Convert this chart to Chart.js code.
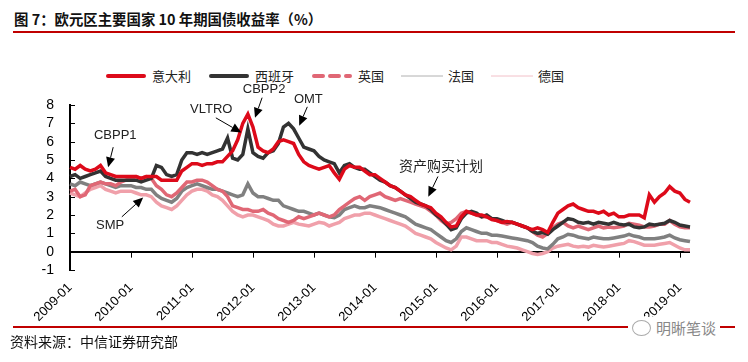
<!DOCTYPE html>
<html>
<head>
<meta charset="utf-8">
<script src="https://cdn.jsdelivr.net/npm/chart.js@4.4.1/dist/chart.umd.min.js"></script>
<style>
body{margin:0;width:748px;height:362px;background:#fff;position:relative;overflow:hidden;font-family:"Noto Sans CJK SC",sans-serif}
#title{position:absolute;left:14px;top:8px;font-size:14.4px;font-weight:bold;color:#111;white-space:nowrap}
.rule{position:absolute;left:13px;width:722px;height:2px;background:#c00000}
#legend{position:absolute;left:105px;top:66px;display:flex;align-items:center;font-size:13px;color:#222;white-space:nowrap}
#legend .item{display:flex;align-items:center;margin-right:17px}
#legend svg{margin-right:5px}
#chart{position:absolute;left:0;top:0}
#source{position:absolute;left:10px;top:331px;font-size:14px;color:#111}
#mark{position:absolute;left:628px;top:317px;background:#fff;padding:0 4px;display:flex;align-items:center;color:#888;font-size:15px}
#mark .ico{width:17px;height:14px;border:1.5px solid #aaa;border-radius:50%;margin-right:5px}
</style>
</head>
<body>
<div id="title">图 7：欧元区主要国家 10 年期国债收益率（%）</div>
<div class="rule" style="top:31px"></div>
<div id="legend"></div>
<canvas id="chart" width="748" height="362"></canvas>
<div class="rule" style="top:326px"></div>
<div id="source">资料来源：中信证券研究部</div>
<div id="mark"><span class="ico"></span>明晰笔谈</div>
<script>
// monthly labels 2009-01 .. 2019-03
const months = []
for (let yr = 2009; yr <= 2019; yr++) {
    for (let m = 1; m <= 12; m++) {
        if (yr == 2019 && m > 3) break
        months.push(yr + '-' + String(m).padStart(2, '0'))
    }
}

const seriesNames = ['意大利', '西班牙', '英国', '法国', '德国']

const italy = [4.6,4.5,4.7,4.5,4.4,4.5,4.7,4.3,4.2,4.1,4.1,4.1,
    4.1,4.1,4.0,4.1,4.1,4.1,3.9,3.9,3.9,3.9,4.4,4.6,
    4.8,4.8,4.7,4.8,4.8,4.9,4.9,5.2,5.5,6.1,7.0,7.5,
    6.8,5.7,5.5,5.4,5.6,6.0,6.1,6.0,5.9,5.3,4.9,4.7,
    4.6,4.5,4.6,4.7,4.3,3.95,4.5,4.7,4.6,4.6,4.4,4.2,
    4.2,4.0,3.8,3.6,3.5,3.3,3.1,3.0,2.8,2.6,2.5,2.4,
    2.1,1.9,1.6,1.35,1.4,1.9,2.2,2.1,2.0,2.0,1.9,1.75,
    1.7,1.6,1.65,1.6,1.5,1.4,1.3,1.2,1.3,1.2,1.05,1.6,
    2.1,2.3,2.5,2.6,2.4,2.3,2.2,2.2,2.1,2.2,2.0,2.1,
    1.9,1.9,2.0,2.0,2.0,1.85,3.1,2.7,3.0,3.2,3.55,3.3,
    3.2,2.85,2.7]
const spain = [4.1,4.2,4.0,4.1,4.2,4.3,4.4,4.1,4.0,3.9,3.9,3.9,
    3.9,3.9,3.8,3.9,4.0,4.7,4.6,4.2,4.1,4.2,5.0,5.4,
    5.4,5.3,5.4,5.3,5.4,5.5,5.6,6.2,5.1,5.0,5.3,6.7,
    5.4,5.2,5.1,5.4,5.5,5.9,6.8,7.0,6.7,6.2,5.7,5.6,
    5.5,5.2,5.0,4.9,4.8,4.3,4.7,4.8,4.6,4.5,4.5,4.3,
    4.1,3.9,3.8,3.6,3.5,3.3,3.1,2.9,2.7,2.6,2.5,2.3,
    2.0,1.8,1.5,1.2,1.3,1.8,2.1,2.2,2.1,1.9,2.0,1.8,
    1.8,1.7,1.6,1.6,1.5,1.4,1.3,1.1,1.0,1.05,0.95,1.2,
    1.4,1.6,1.8,1.75,1.6,1.55,1.6,1.5,1.6,1.55,1.5,1.6,
    1.5,1.45,1.5,1.35,1.3,1.35,1.5,1.45,1.5,1.55,1.7,1.6,
    1.45,1.4,1.35]
const uk = [3.3,3.4,3.0,3.1,3.6,3.7,3.8,3.7,3.7,3.6,3.8,3.9,
    4.0,4.1,4.0,4.1,4.0,3.6,3.4,3.1,3.0,3.2,3.5,3.8,
    3.8,3.9,3.9,3.8,3.6,3.4,3.3,3.0,2.5,2.4,2.3,2.3,
    2.2,2.2,2.3,2.1,2.0,1.8,1.7,1.6,1.7,1.9,1.8,1.9,
    2.0,2.1,2.0,1.9,2.0,2.3,2.5,2.7,2.9,3.0,2.8,3.0,
    3.1,3.2,3.0,2.9,2.8,2.9,2.8,2.7,2.6,2.5,2.4,2.2,
    2.0,1.7,1.5,1.6,1.8,2.1,2.2,2.1,2.0,1.9,1.9,1.8,
    1.7,1.6,1.5,1.6,1.5,1.4,1.3,1.1,0.9,0.8,1.0,1.3,
    1.5,1.6,1.4,1.3,1.4,1.3,1.2,1.3,1.4,1.3,1.35,1.3,
    1.35,1.4,1.55,1.5,1.45,1.35,1.35,1.4,1.5,1.5,1.7,1.5,
    1.35,1.3,1.3]
const france = [3.7,3.6,3.8,3.7,3.6,3.7,3.8,3.7,3.6,3.5,3.6,3.6,
    3.6,3.5,3.5,3.4,3.4,3.1,2.9,2.8,2.7,2.9,3.3,3.5,
    3.6,3.7,3.6,3.5,3.4,3.4,3.3,3.2,3.1,3.0,3.1,3.7,
    3.2,3.0,3.0,2.9,2.8,2.8,2.5,2.4,2.3,2.2,2.2,2.1,
    2.0,2.1,2.0,1.9,1.85,2.0,2.3,2.4,2.5,2.4,2.4,2.5,
    2.45,2.4,2.3,2.2,2.1,2.0,1.9,1.7,1.5,1.4,1.3,1.2,
    1.0,0.8,0.6,0.5,0.7,1.1,1.3,1.2,1.1,1.0,1.0,0.9,
    0.9,0.85,0.8,0.75,0.7,0.65,0.6,0.5,0.3,0.2,0.15,0.4,
    0.7,0.8,0.95,0.9,0.8,0.75,0.7,0.8,0.75,0.7,0.7,0.75,
    0.8,0.85,0.95,0.85,0.8,0.7,0.7,0.7,0.75,0.8,0.9,0.75,
    0.65,0.6,0.55]
const germany = [3.2,3.1,3.0,3.2,3.4,3.5,3.6,3.4,3.3,3.2,3.3,3.3,
    3.3,3.2,3.1,3.1,3.0,2.7,2.5,2.4,2.3,2.5,2.8,3.1,
    3.3,3.4,3.4,3.3,3.1,3.0,2.8,2.5,2.2,2.0,1.9,2.0,
    2.0,1.9,1.8,1.7,1.5,1.4,1.4,1.5,1.6,1.5,1.45,1.4,
    1.5,1.6,1.55,1.4,1.5,1.6,1.8,1.9,2.0,2.0,2.1,2.1,
    2.0,1.9,1.8,1.7,1.6,1.5,1.4,1.2,1.0,0.9,0.8,0.7,
    0.5,0.35,0.2,0.1,0.3,0.8,0.8,0.7,0.6,0.6,0.6,0.5,
    0.5,0.4,0.3,0.25,0.2,0.1,0.0,-0.1,-0.15,-0.1,0.0,0.2,
    0.3,0.35,0.4,0.3,0.25,0.3,0.25,0.35,0.3,0.25,0.3,0.35,
    0.4,0.45,0.6,0.55,0.45,0.35,0.35,0.35,0.4,0.45,0.5,0.35,
    0.2,0.1,0.1]

// annotation text + arrow (tail -> tip), in data units (month index, yield)
const notes = [
    {text: 'CBPP1', at: [8.9, 6.33], tail: [8.5, 5.7], tip: [7.5, 4.6]},
    {text: 'SMP', at: [7.9, 1.42], tail: [10.2, 1.9], tip: [14.4, 2.95]},
    {text: 'VLTRO', at: [27.8, 7.75], tail: [28.7, 7.3], tip: [33.7, 6.5]},
    {text: 'CBPP2', at: [38.2, 8.84], tail: [37.8, 8.4], tip: [36.4, 7.3]},
    {text: 'OMT', at: [46.9, 8.29], tail: [46.7, 7.9], tip: [45.1, 6.87]},
    {text: '资产购买计划', at: [73.0, 4.69], tail: [72.4, 4.1], tip: [70.5, 3.0], cjk: true}
]

const colors = ['#dd0a1a', '#333333', '#e06775', '#808080', '#f0a0aa']
const seriesData = [italy, spain, uk, france, germany]

// legend (html)
const legendLook = [
    {w: 4, c: '#dd0a1a'}, {w: 4, c: '#333333'}, {w: 4, c: '#e06775', dash: '9 7'},
    {w: 1, c: '#b0b0b0'}, {w: 1, c: '#f2c0c8'}
]
const legend = document.querySelector('#legend')
seriesNames.forEach((name, i) => {
    const lk = legendLook[i]
    const item = document.createElement('div')
    item.className = 'item'
    item.innerHTML = `<svg width="42" height="8"><line x1="${lk.w > 1 ? 3 : 0}" y1="4" x2="${lk.w > 1 ? 39 : 42}" y2="4" stroke="${lk.c}" stroke-width="${lk.w}" stroke-linecap="round" ${lk.dash ? 'stroke-dasharray="' + lk.dash + '"' : ''}/></svg><span>${name}</span>`
    legend.append(item)
})

const decor = {
    id: 'decor',
    afterDraw(chart) {
        const ctx = chart.ctx
        const x = chart.scales.x, y = chart.scales.y, a = chart.chartArea
        ctx.save()
        ctx.strokeStyle = '#000'
        ctx.lineWidth = 1
        const y0 = y.getPixelForValue(0)
        months.forEach((l, i) => {
            if (l.endsWith('-01')) {
                const px = Math.round(x.getPixelForValue(i)) + 0.5
                ctx.beginPath(); ctx.moveTo(px, y0); ctx.lineTo(px, y0 + 6); ctx.stroke()
            }
        })
        for (let v = -1; v <= 8; v++) {
            const py = Math.round(y.getPixelForValue(v)) + 0.5
            ctx.beginPath(); ctx.moveTo(a.left, py); ctx.lineTo(a.left + 5, py); ctx.stroke()
        }
        notes.forEach(n => {
            const tx = x.getPixelForValue(n.at[0]), ty = y.getPixelForValue(n.at[1])
            ctx.fillStyle = '#222'
            ctx.font = n.cjk ? '14px "Noto Sans CJK SC"' : '13px "Liberation Sans", Arial, sans-serif'
            ctx.textAlign = 'center'
            ctx.textBaseline = 'middle'
            ctx.fillText(n.text, tx, ty)
            const x1 = x.getPixelForValue(n.tail[0]), y1 = y.getPixelForValue(n.tail[1])
            const x2 = x.getPixelForValue(n.tip[0]), y2 = y.getPixelForValue(n.tip[1])
            const ang = Math.atan2(y2 - y1, x2 - x1)
            const hl = 10, hw = 4.5
            ctx.beginPath()
            ctx.moveTo(x1, y1)
            ctx.lineTo(x2 - hl * Math.cos(ang), y2 - hl * Math.sin(ang))
            ctx.stroke()
            ctx.beginPath()
            ctx.moveTo(x2, y2)
            ctx.lineTo(x2 - hl * Math.cos(ang) + hw * Math.sin(ang), y2 - hl * Math.sin(ang) - hw * Math.cos(ang))
            ctx.lineTo(x2 - hl * Math.cos(ang) - hw * Math.sin(ang), y2 - hl * Math.sin(ang) + hw * Math.cos(ang))
            ctx.closePath()
            ctx.fillStyle = '#000'
            ctx.fill()
        })
        ctx.restore()
    }
}

new Chart(document.querySelector('#chart'), {
    type: 'line',
    data: {
        labels: months,
        datasets: seriesNames.map((name, i) => ({
            label: name,
            data: seriesData[i],
            borderColor: colors[i],
            backgroundColor: colors[i],
            borderWidth: 3.5,
            pointRadius: 0,
            tension: 0,
            fill: false
        }))
    },
    options: {
        responsive: false,
        animation: false,
        layout: {padding: {top: 105, right: 58, left: 0, bottom: 0}},
        plugins: {
            legend: {display: false},
            tooltip: {enabled: false}
        },
        scales: {
            x: {
                grid: {display: false},
                border: {display: false},
                afterFit: s => { s.height = 92 },
                ticks: {
                    autoSkip: false,
                    minRotation: 45,
                    maxRotation: 45,
                    padding: 2,
                    color: '#000',
                    font: {family: '"Liberation Sans", Arial, sans-serif', size: 13},
                    callback: (v, i) => months[i].endsWith('-01') ? months[i] : ''
                }
            },
            y: {
                min: -1,
                max: 8,
                afterFit: s => { s.width = 70 },
                grid: {
                    drawTicks: false,
                    lineWidth: 2,
                    color: c => c.tick.value === 0 ? '#000' : 'rgba(0,0,0,0)'
                },
                border: {color: '#000', width: 2},
                ticks: {
                    stepSize: 1,
                    autoSkip: false,
                    padding: 16,
                    color: '#000',
                    font: {family: '"Liberation Sans", Arial, sans-serif', size: 14}
                }
            }
        }
    },
    plugins: [decor]
})
</script>
</body>
</html>
